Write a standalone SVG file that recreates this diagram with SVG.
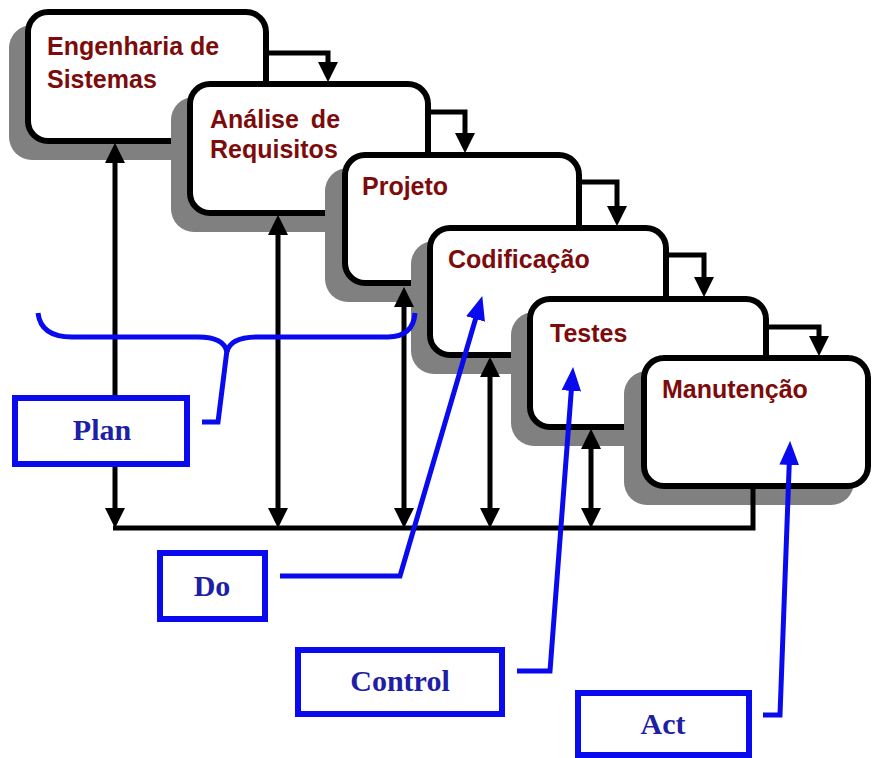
<svg xmlns="http://www.w3.org/2000/svg" width="872" height="758" viewBox="0 0 872 758">
  <defs>
    <marker id="ah" markerUnits="userSpaceOnUse" markerWidth="20" markerHeight="20" viewBox="0 0 18 18" refX="8" refY="9" orient="auto-start-reverse">
      <path d="M0,0 L18,9 L0,18 Z" fill="#000"/>
    </marker>
    <marker id="bh" markerUnits="userSpaceOnUse" markerWidth="24" markerHeight="20" viewBox="0 0 22 18" refX="10" refY="9" orient="auto">
      <path d="M0,0 L22,9 L0,18 Z" fill="#0a0aef"/>
    </marker>
  </defs>
  <style>
    .shadow { fill: #808080; }
    .box { fill: #fff; stroke: #000; stroke-width: 6; }
    .lbl { font-family: "Liberation Sans", Arial, sans-serif; font-weight: bold; font-size: 25px; fill: #7d0b0b; }
    .blk { fill: none; stroke: #000; stroke-width: 5; }
    .blu { fill: none; stroke: #0a0aef; stroke-width: 5; }
    .pbox { fill: #fff; stroke: #0a0aef; stroke-width: 6; }
    .ptxt { font-family: "Liberation Serif", "Times New Roman", serif; font-weight: bold; font-size: 30px; fill: #1e1ea6; text-anchor: middle; }
  </style>
  <rect width="872" height="758" fill="#fff"/>

  <g id="n1">
    <rect class="shadow" x="9" y="25" width="244" height="135" rx="23"/>
    <rect class="box" x="28" y="12" width="238" height="129" rx="20"/>
    <text class="lbl" x="47" y="55">Engenharia de</text>
    <text class="lbl" x="47" y="88">Sistemas</text>
  </g>
  <g id="n2">
    <rect class="shadow" x="171" y="97" width="244" height="135" rx="23"/>
    <rect class="box" x="190" y="84" width="238" height="129" rx="20"/>
    <text class="lbl" x="210" y="128" word-spacing="5">Análise de</text>
    <text class="lbl" x="210" y="158">Requisitos</text>
  </g>
  <g id="n3">
    <rect class="shadow" x="325" y="168" width="240" height="134" rx="23"/>
    <rect class="box" x="345" y="155" width="234" height="128" rx="20"/>
    <text class="lbl" x="362" y="195">Projeto</text>
  </g>
  <g id="n4">
    <rect class="shadow" x="411" y="241" width="242" height="133" rx="23"/>
    <rect class="box" x="430" y="228" width="236" height="127" rx="20"/>
    <text class="lbl" x="448" y="268">Codificação</text>
  </g>
  <g id="n5">
    <rect class="shadow" x="511" y="312" width="242" height="134" rx="23"/>
    <rect class="box" x="530" y="299" width="236" height="128" rx="20"/>
    <text class="lbl" x="550" y="342">Testes</text>
  </g>
  <g id="n6">
    <rect class="shadow" x="624" y="371" width="230" height="134" rx="23"/>
    <rect class="box" x="644" y="358" width="224" height="128" rx="20"/>
    <text class="lbl" x="662" y="398">Manutenção</text>
  </g>

  <g id="connectors">
    <path class="blk" d="M266,53 H328 V71" marker-end="url(#ah)"/>
    <path class="blk" d="M428,112 H465 V142" marker-end="url(#ah)"/>
    <path class="blk" d="M579,182 H617 V215" marker-end="url(#ah)"/>
    <path class="blk" d="M666,255 H704 V286" marker-end="url(#ah)"/>
    <path class="blk" d="M766,327 H819 V345" marker-end="url(#ah)"/>

    <path class="blk" d="M115,154 V517" marker-start="url(#ah)" marker-end="url(#ah)"/>
    <path class="blk" d="M278,226 V517" marker-start="url(#ah)" marker-end="url(#ah)"/>
    <path class="blk" d="M404,298 V517" marker-start="url(#ah)" marker-end="url(#ah)"/>
    <path class="blk" d="M490,368 V517" marker-start="url(#ah)" marker-end="url(#ah)"/>
    <path class="blk" d="M591,440 V517" marker-start="url(#ah)" marker-end="url(#ah)"/>
    <path class="blk" d="M113,528 H753 V486"/>

    <path class="blu" d="M38,313 C40,330 52,337 72,337 L198,337 C215,337 225,342 227,352"/>
    <path class="blu" d="M227,352 C229,342 240,337 258,337 L388,337 C405,337 414,328 415,313"/>
    <path class="blu" d="M227,350 L218,422 L202,422"/>
    <path class="blu" d="M280,576 H400 L478.6,308.5" marker-end="url(#bh)"/>
    <path class="blu" d="M517,671 H550 L572.1,380" marker-end="url(#bh)"/>
    <path class="blu" d="M763,715 H780 L789.6,454" marker-end="url(#bh)"/>
  </g>

  <g id="plan">
    <rect class="pbox" x="15" y="398" width="172" height="66"/>
    <text class="ptxt" x="102" y="440">Plan</text>
  </g>
  <g id="do">
    <rect class="pbox" x="160" y="553" width="105" height="66"/>
    <text class="ptxt" x="212" y="596">Do</text>
  </g>
  <g id="control">
    <rect class="pbox" x="298" y="650" width="204" height="64"/>
    <text class="ptxt" x="400" y="691">Control</text>
  </g>
  <g id="act">
    <rect class="pbox" x="578" y="693" width="171" height="62"/>
    <text class="ptxt" x="663" y="734">Act</text>
  </g>
</svg>
